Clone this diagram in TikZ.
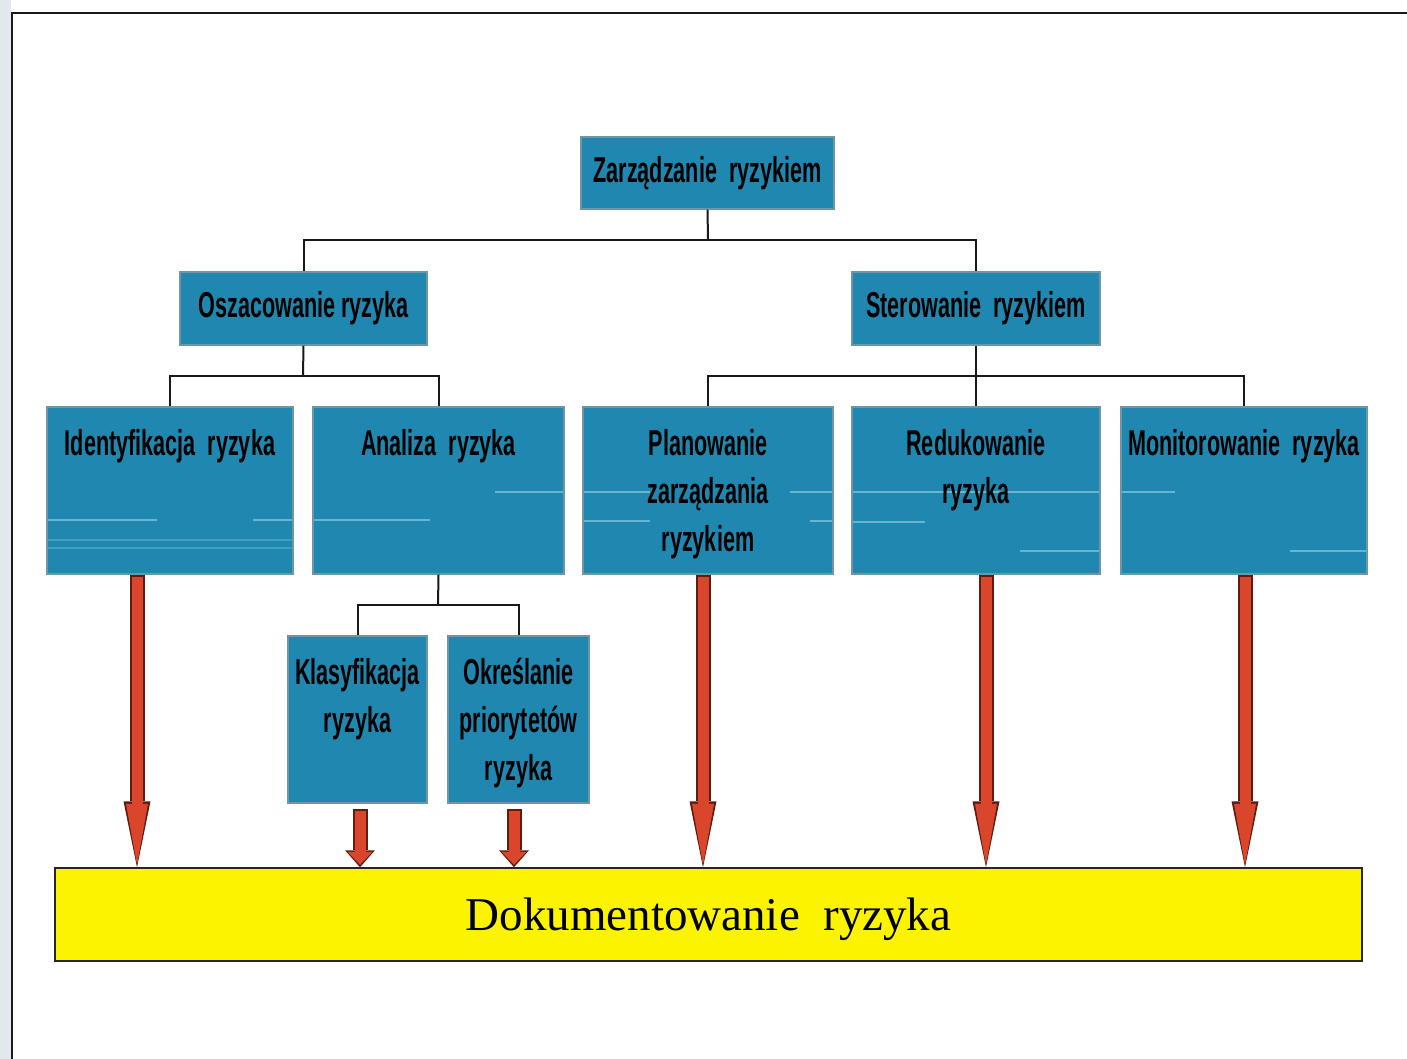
\documentclass[tikz,border=0pt]{standalone}
\usepackage{fontspec}
\setmainfont{Liberation Serif}
\newfontfamily\boxfont{Liberation Sans}[FakeStretch=0.6]
\usetikzlibrary{arrows.meta}

\definecolor{boxblue}{RGB}{32,136,176}
\definecolor{boxedge}{RGB}{110,150,165}
\definecolor{streakc}{RGB}{175,228,238}
\definecolor{docyellow}{RGB}{252,243,0}
\definecolor{arrowred}{RGB}{218,70,44}
\definecolor{arrowdark}{RGB}{95,28,18}
\definecolor{margin}{RGB}{226,232,238}

\tikzset{
  blk/.style={draw=boxedge, fill=boxblue, line width=1.2pt, inner sep=0pt},
  wide/.style={blk, minimum height=73pt},
  tall/.style={blk, minimum height=167pt},
  lbl/.style={font={\boxfont\bfseries\fontsize{36}{48}\selectfont}, align=center,
              inner sep=0pt, text=black},
  toplbl/.style={lbl, anchor=north},
  link/.style={draw=black!90, line width=2pt},
  streak/.style={draw=streakc, line width=1.2pt, opacity=0.5},
  longout/.style={draw=arrowdark, line width=15pt,
                  -{Triangle[length=66pt,width=27pt,line width=0pt]}},
  longin/.style={draw=arrowred, line width=11pt, shorten >=2.5pt,
                 -{Triangle[length=61pt,width=22pt,line width=0pt]}},
  shortout/.style={draw=arrowdark, line width=15pt,
                   -{Triangle[length=17pt,width=30pt,line width=0pt]}},
  shortin/.style={draw=arrowred, line width=11pt, shorten >=2.5pt,
                  -{Triangle[length=13pt,width=25pt,line width=0pt]}},
}

\begin{document}
\begin{tikzpicture}[x=1pt, y=-1pt]
  % page and frame
  \useasboundingbox (0,0) rectangle (1407,1059);
  \fill[white] (0,0) rectangle (1407,1059);
  \fill[margin] (0,0) rectangle (11,1059);
  \draw[line width=2.6pt, draw=black!90] (12,1059) -- (12,13) -- (1407,13);

  % top level
  \node[blk, minimum width=253pt, minimum height=72pt, lbl] (zr) at (707.5,173)
       {Zarządzanie~~ryzykiem};

  % second level
  \node[wide, minimum width=247pt, lbl] (osz) at (303.5,308.5) {Oszacowanie ryzyka};
  \node[wide, minimum width=248pt, lbl] (ster) at (976,308.5) {Sterowanie~~ryzykiem};

  % third level
  \node[tall, minimum width=246pt] (ident) at (170,490.5) {};
  \node[tall, minimum width=251pt] (anal)  at (438.5,490.5) {};
  \node[tall, minimum width=250pt] (plan)  at (708,490.5) {};
  \node[tall, minimum width=248pt] (red)   at (976,490.5) {};
  \node[tall, minimum width=246pt] (mon)   at (1244,490.5) {};

  % fourth level
  \node[tall, minimum width=139pt] (klas) at (357.5,719.5) {};
  \node[tall, minimum width=141pt] (okr)  at (518.5,719.5) {};

  % light streaks across the boxes
  \draw[streak] (48,520) -- (157,520) (253,520) -- (292,520);
  \draw[streak, opacity=0.25] (48,540) -- (292,540) (48,548) -- (292,548);
  \draw[streak] (495,492) -- (563,492) (314,520) -- (430,520);
  \draw[streak] (584,492) -- (650,492) (790,492) -- (832,492)
                (584,521) -- (650,521) (810,521) -- (832,521);
  \draw[streak] (853,492) -- (1099,492) (853,522) -- (925,522) (1020,551) -- (1099,551);
  \draw[streak] (1122,492) -- (1175,492) (1290,551) -- (1366,551);

  % box captions
  \node[toplbl] (identT) at ([yshift=-15pt]ident.north) {\strut Identyfikacja~~ryzyka};
  \node[toplbl] (analT)  at ([yshift=-15pt]anal.north)  {\strut Analiza~~ryzyka};
  \node[toplbl] (planT)  at ([yshift=-15pt]plan.north)  {\strut Planowanie\\zarządzania\\ryzykiem};
  \node[toplbl] (redT)   at ([yshift=-15pt]red.north)   {\strut Redukowanie\\ryzyka};
  \node[toplbl] (monT)   at ([yshift=-15pt]mon.north)   {\strut Monitorowanie~~ryzyka};
  \node[toplbl] (klasT)  at ([yshift=-15pt]klas.north)  {\strut Klasyfikacja\\ryzyka};
  \node[toplbl] (okrT)   at ([yshift=-15pt]okr.north)   {\strut Określanie\\priorytetów\\ryzyka};

  % documentation bar
  \node[draw=black!85, fill=docyellow, line width=1.5pt, minimum width=1307pt,
        minimum height=93pt, text depth=0pt,
        font=\fontsize{47}{56}\selectfont] (dok) at (708.5,914.5)
       {Dokumentowanie~~ryzyka};

  % tree connectors
  \coordinate (j1) at (708,240);
  \coordinate (j2) at (303,376);
  \coordinate (j3) at (976,376);
  \coordinate (j4) at (438,605);
  \draw[link] (zr.south) -- (j1);
  \draw[link] (osz.north) |- (j1) -| (ster.north);
  \draw[link] (osz.south) -- (j2);
  \draw[link] (ident.north) |- (j2) -| (anal.north);
  \draw[link] (ster.south) -- (j3);
  \draw[link] (plan.north) |- (j3) -| (mon.north);
  \draw[link] (red.north) -- (j3);
  \draw[link] (anal.south) -- (j4);
  \draw[link] (klas.north) |- (j4) -| (okr.north);

  % arrows into the documentation bar
  \coordinate (x1) at (137,0);
  \coordinate (x2) at (703,0);
  \coordinate (x3) at (986,0);
  \coordinate (x4) at (1245,0);
  \coordinate (x5) at (360,0);
  \coordinate (x6) at (514,0);
  \foreach \b/\c in {ident/x1, plan/x2, red/x3, mon/x4}{
    \draw[longout] (\b.south -| \c) -- (dok.north -| \c);
    \draw[longin]  ([yshift=-2pt]\b.south -| \c) -- (dok.north -| \c);
  }
  \foreach \b/\c in {klas/x5, okr/x6}{
    \draw[shortout] ([yshift=-5pt]\b.south -| \c) -- (dok.north -| \c);
    \draw[shortin]  ([yshift=-7pt]\b.south -| \c) -- (dok.north -| \c);
  }
\end{tikzpicture}
\end{document}
